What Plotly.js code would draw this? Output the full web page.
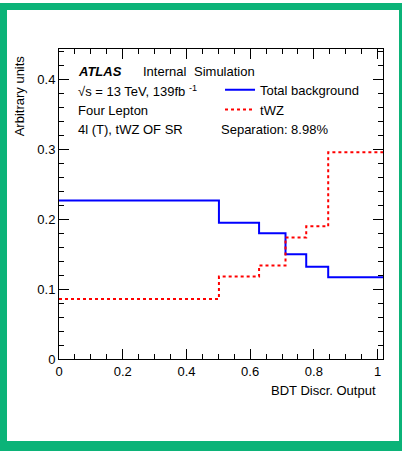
<!DOCTYPE html>
<html>
<head>
<meta charset="utf-8">
<script src="https://cdn.plot.ly/plotly-3.0.1.min.js"></script>
<style>
  html, body { margin: 0; padding: 0; background: #ffffff; }
  #wrap { position: relative; width: 402px; height: 451px; overflow: hidden; }
  #chart { position: absolute; left: 0; top: 0; width: 402px; height: 451px; }
  #frame { position: absolute; left: 0; top: 3px; width: 392px; height: 431px;
           border-style: solid; border-color: #0bb378;
           border-width: 7px 3px 10px 7px; pointer-events: none; z-index: 10; }
</style>
</head>
<body>
<div id="wrap">
  <div id="chart"></div>
  <div id="frame"></div>
</div>
<script>
// Bin edges of the BDT discriminant histogram
const binEdges = [0, 0.502, 0.628, 0.711, 0.776, 0.845, 1.017];
// Normalised bin contents
const totalBackground = [0.227, 0.195, 0.180, 0.150, 0.132, 0.117];
const tWZ = [0.086, 0.118, 0.134, 0.174, 0.190, 0.296];
const seriesNames = ["Total background", "tWZ"];

function stepY(vals) { return vals.concat([vals[vals.length - 1]]); }

const FONT = "Liberation Sans, Arial, Helvetica, sans-serif";

const traces = [
  {
    x: binEdges, y: stepY(totalBackground), name: seriesNames[0],
    type: "scatter", mode: "lines", line: { shape: "hv", color: "#0000ff", width: 2 },
    hoverinfo: "skip"
  },
  {
    x: binEdges, y: stepY(tWZ), name: seriesNames[1],
    type: "scatter", mode: "lines", line: { shape: "hv", color: "#ff0000", width: 2, dash: "dot" },
    hoverinfo: "skip"
  }
];

const axisCommon = {
  showline: true, linecolor: "#000000", linewidth: 1, mirror: "allticks",
  ticks: "inside", tickcolor: "#000000", ticklen: 10, tickwidth: 1,
  showgrid: false, zeroline: false,
  tickfont: { family: FONT, size: 13, color: "#000000" },
  fixedrange: true
};

const layout = {
  width: 402, height: 451,
  margin: { l: 59, r: 19, t: 49, b: 92 },
  paper_bgcolor: "#ffffff", plot_bgcolor: "#ffffff",
  font: { family: FONT, size: 13, color: "#000000" },
  showlegend: true,
  legend: {
    x: 0.497, y: 0.917, xanchor: "left", yanchor: "top",
    bgcolor: "rgba(0,0,0,0)", borderwidth: 0,
    font: { family: FONT, size: 13, color: "#000000" },
    itemwidth: 30
  },
  xaxis: Object.assign({}, axisCommon, {
    range: [0, 1.017], dtick: 0.2, tick0: 0,
    minor: { dtick: 0.05, ticks: "inside", ticklen: 5, tickcolor: "#000000", showgrid: false }
  }),
  yaxis: Object.assign({}, axisCommon, {
    range: [0, 0.444], dtick: 0.1, tick0: 0,
    minor: { dtick: 0.02, ticks: "inside", ticklen: 5, tickcolor: "#000000", showgrid: false }
  }),
  annotations: [
    { text: "<b><i>ATLAS</i></b>", xref: "paper", yref: "paper", x: 0.0525, y: 0.928,
      xanchor: "left", yanchor: "middle", showarrow: false, font: { size: 13 } },
    { text: "Internal", xref: "paper", yref: "paper", x: 0.2543, y: 0.928,
      xanchor: "left", yanchor: "middle", showarrow: false, font: { size: 13 } },
    { text: "Simulation", xref: "paper", yref: "paper", x: 0.4105, y: 0.928,
      xanchor: "left", yanchor: "middle", showarrow: false, font: { size: 13 } },
    { text: "√s = 13 TeV, 139fb <sup>-1</sup>", xref: "paper", yref: "paper", x: 0.0525, y: 0.8652,
      xanchor: "left", yanchor: "middle", showarrow: false, font: { size: 13 } },
    { text: "Four Lepton", xref: "paper", yref: "paper", x: 0.0525, y: 0.803,
      xanchor: "left", yanchor: "middle", showarrow: false, font: { size: 13 } },
    { text: "4l (T), tWZ OF SR", xref: "paper", yref: "paper", x: 0.0525, y: 0.7395,
      xanchor: "left", yanchor: "middle", showarrow: false, font: { size: 13 } },
    { text: "Separation: 8.98%", xref: "paper", yref: "paper", x: 0.4929, y: 0.7395,
      xanchor: "left", yanchor: "middle", showarrow: false, font: { size: 13 } },
    { text: "BDT Discr. Output", xref: "paper", yref: "paper", x: 0.9836, y: -0.101,
      xanchor: "right", yanchor: "middle", showarrow: false, font: { size: 13 } },
    { text: "Arbitrary units", xref: "paper", yref: "paper", x: -0.121, y: 0.987,
      xanchor: "center", yanchor: "top", textangle: -90, showarrow: false, font: { size: 13 } }
  ]
};

Plotly.newPlot("chart", traces, layout, { displayModeBar: false, staticPlot: true });
</script>
</body>
</html>
